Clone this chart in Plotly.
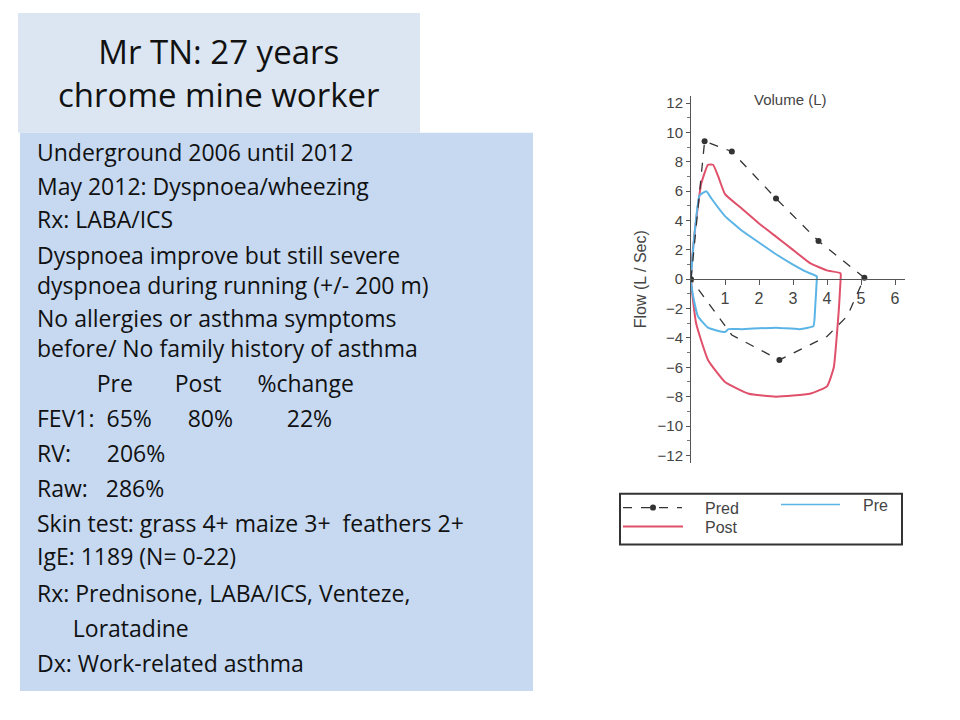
import plotly.graph_objects as go

pred_v = [0, 0.4, 1.2, 2.5, 3.75, 5.1, 4.6, 4.0, 2.6, 1.2, 0]
pred_f = [0, 9.4, 8.7, 5.5, 2.6, 0.1, -2.5, -3.9, -5.5, -3.8, 0]
pred_mk = [0, 0.4, 1.2, 2.5, 3.75, 5.1, 2.6]
pred_mf = [0, 9.4, 8.7, 5.5, 2.6, 0.1, -5.5]

post_v = [0, 0.1, 0.3, 0.5, 0.65, 0.8, 1.0, 1.5, 2.0, 2.5, 3.0, 3.5, 4.0, 4.4, 4.4, 4.35, 4.3, 4.2, 4.0, 3.5, 2.5, 1.7, 1.0, 0.5, 0.15, 0]
post_f = [0, 3.0, 6.5, 7.8, 7.8, 7.0, 5.8, 4.8, 3.8, 2.9, 2.0, 1.1, 0.6, 0.4, 0, -2.0, -3.5, -6.0, -7.3, -7.8, -8.0, -7.8, -7.0, -5.5, -3.0, 0]

pre_v = [0, 0.1, 0.25, 0.45, 0.6, 1.0, 1.5, 2.0, 2.5, 3.0, 3.4, 3.7, 3.7, 3.65, 3.6, 3.2, 2.5, 1.5, 1.1, 1.0, 0.5, 0.2, 0.05, 0]
pre_f = [0, 3.0, 5.7, 6.0, 5.5, 4.3, 3.3, 2.5, 1.7, 1.0, 0.5, 0.2, 0, -2.0, -3.2, -3.4, -3.3, -3.4, -3.4, -3.6, -3.3, -2.5, -1.0, 0]

x_ticks = [1, 2, 3, 4, 5, 6]
y_ticks = [-12, -10, -8, -6, -4, -2, 0, 2, 4, 6, 8, 10, 12]

text_lines = [
    ("Underground 2006 until 2012", 151),
    ("May 2012: Dyspnoea/wheezing", 186),
    ("Rx: LABA/ICS", 219),
    ("Dyspnoea improve but still severe<br>dyspnoea during running (+/- 200 m)", 270),
    ("No allergies or asthma symptoms<br>before/ No family history of asthma", 333),
    ("          Pre       Post      %change", 383),
    ("FEV1:  65%      80%         22%", 418),
    ("RV:      206%", 453),
    ("Raw:   286%", 488),
    ("Skin test: grass 4+ maize 3+  feathers 2+", 523),
    ("IgE: 1189 (N= 0-22)", 557),
    ("Rx: Prednisone, LABA/ICS, Venteze,", 594),
    ("      Loratadine", 629),
    ("Dx: Work-related asthma", 664),
]

W, H = 960, 720
def px(x): return x / W
def py(y): return 1 - y / H

fig = go.Figure()
fig.add_trace(go.Scatter(x=post_v, y=post_f, mode="lines", line=dict(color="#e0506a", width=2, shape="spline", smoothing=0.4), name="Post"))
fig.add_trace(go.Scatter(x=pre_v, y=pre_f, mode="lines", line=dict(color="#5ab4e6", width=2, shape="spline", smoothing=0.4), name="Pre"))
fig.add_trace(go.Scatter(x=pred_v, y=pred_f, mode="lines", line=dict(color="#333", width=1.3, dash="dash"), name="Pred"))
fig.add_trace(go.Scatter(x=pred_mk, y=pred_mf, mode="markers", marker=dict(color="#333", size=6), name="Pred pts"))
fig.add_trace(go.Scatter(x=[0], y=[0], xaxis="x2", mode="markers", marker=dict(opacity=0), hoverinfo="skip"))

xd = [px(691), px(691) + 6.3 * 34 / W]
yd = [py(463), py(95)]
fig.update_layout(
    width=W, height=H, margin=dict(l=0, r=0, t=0, b=0), showlegend=False,
    paper_bgcolor="white", plot_bgcolor="rgba(0,0,0,0)",
    font=dict(family="Liberation Sans", color="#333"),
    xaxis=dict(domain=xd, range=[0, 6.3], showgrid=False, zeroline=False, showticklabels=False,
               showline=False, anchor="y"),
    xaxis2=dict(domain=xd, range=[0, 6.3], overlaying="x", anchor="free", position=(yd[0] + yd[1]) / 2,
                showline=True, linecolor="#555", showgrid=False, zeroline=False,
                tickvals=x_ticks, ticks="outside", ticklen=5, tickcolor="#555",
                tickfont=dict(size=16, color="#444")),
    yaxis=dict(domain=yd, range=[-12.5, 12.5], showgrid=False, zeroline=False, showline=True,
               linecolor="#555", tickvals=y_ticks, ticks="outside", ticklen=4, tickcolor="#555",
               minor=dict(dtick=1, ticks="outside", ticklen=3, tickcolor="#777"),
               tickfont=dict(size=15, color="#444"),
               title=dict(text="Flow (L / Sec)", font=dict(size=16, color="#444"), standoff=6)),
)

shapes = [
    dict(type="rect", xref="paper", yref="paper", x0=px(18), x1=px(420), y0=py(132), y1=py(12),
         fillcolor="#dce6f2", line=dict(width=0), layer="below"),
    dict(type="rect", xref="paper", yref="paper", x0=px(20), x1=px(533), y0=py(692), y1=py(132),
         fillcolor="#c6d9f1", line=dict(width=0), layer="below"),
    dict(type="rect", xref="paper", yref="paper", x0=px(620), x1=px(902), y0=py(545), y1=py(494),
         line=dict(color="#333", width=2)),
    dict(type="line", xref="paper", yref="paper", x0=px(623), x1=px(682), y0=py(508), y1=py(508),
         line=dict(color="#333", width=1.3, dash="dash")),
    dict(type="line", xref="paper", yref="paper", x0=px(623), x1=px(683), y0=py(527), y1=py(527),
         line=dict(color="#e0506a", width=2)),
    dict(type="line", xref="paper", yref="paper", x0=px(781), x1=px(840), y0=py(505), y1=py(505),
         line=dict(color="#5ab4e6", width=1.5)),
    dict(type="circle", xref="paper", yref="paper", x0=px(650), x1=px(656), y0=py(511), y1=py(505),
         fillcolor="#333", line=dict(width=0)),
]
fig.update_layout(shapes=shapes)

def A(text, x, y, size, xa="left", fam="Liberation Sans", color="#444", align="center"):
    return dict(text=text, x=px(x), y=py(y), xref="paper", yref="paper", xanchor=xa, yanchor="middle",
                showarrow=False, font=dict(family=fam, size=size, color=color), align=align)

ann = [
    A("Mr TN: 27 years<br>chrome mine worker", 219, 72, 33, "center", "Open Sans", "#111"),
    A("Volume (L)", 790, 99, 15, "center"),
    A("Pred", 703, 509, 16),
    A("Post", 703, 528, 16),
    A("Pre", 861, 506, 16),
]
for t, y in text_lines:
    ann.append(A(t.replace(" ", "&nbsp;").replace("&nbsp;<br>", "<br>"), 35, y, 23, "left", "Open Sans", "#111", "left"))
fig.update_layout(annotations=ann)
fig.write_html("out.html", config={"displayModeBar": False},
               post_script="document.body.style.margin='0';document.body.style.overflow='hidden';")
